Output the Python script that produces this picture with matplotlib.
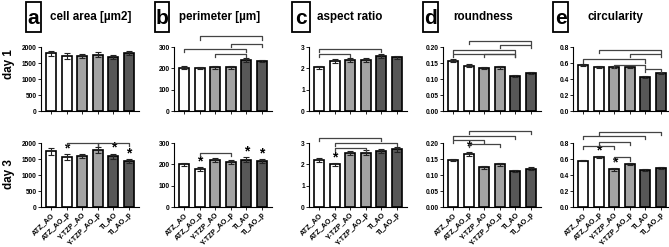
import numpy as np
import matplotlib
matplotlib.use("Agg")
from matplotlib import pyplot as plt
from matplotlib.patches import Rectangle

plt.rcParams['font.family'] = ['Liberation Sans', 'DejaVu Sans']
plt.rcParams['font.weight'] = 'bold'

groups = ["ATZ_AO", "ATZ_AO_p", "Y-TZP_AO", "Y-TZP_AO_p", "Ti_AO", "Ti_AO_p"]
bar_colors = ["white", "white", "#a3a3a3", "#a3a3a3", "#575757", "#575757"]

letters = ["a", "b", "c", "d", "e"]
titles = ["cell area [µm2]", "perimeter [µm]", "aspect ratio", "roundness", "circularity"]
ymax = [2000, 300, 3, 0.20, 0.8]
ytick_step = [500, 100, 1, 0.05, 0.2]
ytick_fmt = ["{:.0f}", "{:.0f}", "{:.0f}", "{:.2f}", "{:.1f}"]

# day 1 means / SEM
area_d1 = [1800, 1720, 1720, 1760, 1700, 1810]
area_d1_err = [80, 85, 70, 80, 60, 60]
perim_d1 = [203, 202, 205, 205, 240, 235]
perim_d1_err = [6, 6, 7, 7, 8, 6]
aspect_d1 = [2.05, 2.33, 2.38, 2.40, 2.58, 2.52]
aspect_d1_err = [0.06, 0.10, 0.10, 0.08, 0.10, 0.08]
round_d1 = [0.157, 0.142, 0.134, 0.136, 0.109, 0.118]
round_d1_err = [0.004, 0.005, 0.004, 0.004, 0.003, 0.003]
circ_d1 = [0.58, 0.55, 0.545, 0.55, 0.425, 0.47]
circ_d1_err = [0.012, 0.012, 0.012, 0.010, 0.010, 0.010]

# day 3 means / SEM
area_d3 = [1740, 1560, 1600, 1790, 1580, 1430]
area_d3_err = [100, 90, 70, 100, 90, 70]
perim_d3 = [200, 178, 220, 212, 222, 215]
perim_d3_err = [8, 8, 8, 10, 12, 10]
aspect_d3 = [2.22, 2.00, 2.52, 2.55, 2.62, 2.70]
aspect_d3_err = [0.10, 0.07, 0.10, 0.12, 0.08, 0.10]
round_d3 = [0.147, 0.165, 0.124, 0.133, 0.113, 0.120]
round_d3_err = [0.004, 0.006, 0.004, 0.005, 0.003, 0.004]
circ_d3 = [0.58, 0.62, 0.47, 0.535, 0.46, 0.485]
circ_d3_err = [0.010, 0.012, 0.020, 0.012, 0.010, 0.012]

# significance markers: stars (bar index) and brackets (from, to, height)
stars_d1 = [[], [], [], [], []]
stars_d3 = [[1, 4, 5], [1, 4, 5], [1], [1], [1, 2]]
brackets_d1 = [
    [],
    [(1, 5, 350), (3, 5, 314), (0, 4, 291), (2, 4, 268)],
    [(0, 4, 2.9), (0, 2, 2.67)],
    [(1, 5, 0.219), (3, 5, 0.206), (0, 4, 0.19), (0, 4, 0.178), (2, 4, 0.178)],
    [(1, 5, 0.76), (3, 5, 0.71), (0, 4, 0.645), (2, 4, 0.58), (4, 5, 0.53)],
]
brackets_d3 = [
    [(1, 3, 2000), (3, 5, 2000)],
    [(1, 3, 253)],
    [(0, 4, 3.23), (1, 5, 3.0), (1, 3, 2.77)],
    [(1, 5, 0.2375), (0, 4, 0.222), (0, 2, 0.209), (1, 3, 0.197)],
    [(1, 5, 0.94), (0, 4, 0.89), (1, 3, 0.81), (0, 2, 0.76), (2, 3, 0.62)],
]

day1 = [(area_d1, area_d1_err), (perim_d1, perim_d1_err), (aspect_d1, aspect_d1_err),
        (round_d1, round_d1_err), (circ_d1, circ_d1_err)]
day3 = [(area_d3, area_d3_err), (perim_d3, perim_d3_err), (aspect_d3, aspect_d3_err),
        (round_d3, round_d3_err), (circ_d3, circ_d3_err)]

W, H = 669, 247
fig = plt.figure(figsize=(W / 100, H / 100), dpi=100)

lefts = [41, 174, 309, 443, 573]
ax_w = 98
rows = [(111, day1, stars_d1, brackets_d1, False), (207, day3, stars_d3, brackets_d3, True)]
ax_h = 64

box_x = [26, 155, 292, 423, 553]
box_w = [15, 14, 18, 15, 15]
title_x = [50, 179, 317, 453, 588]

x = np.arange(len(groups))
for bottom_px, data, stars, brackets, show_labels in rows:
    for k in range(5):
        ax = fig.add_axes([lefts[k] / W, 1 - bottom_px / H, ax_w / W, ax_h / H])
        vals, errs = data[k]
        ax.bar(x, vals, width=0.64, color=bar_colors, edgecolor="black", linewidth=1.2, zorder=2)
        ax.errorbar(x, vals, yerr=errs, fmt="none", ecolor="#222222", elinewidth=0.8,
                    capsize=2.2, capthick=0.8, zorder=3)
        ax.set_xlim(-0.65, 5.65)
        ax.set_ylim(0, ymax[k])
        ax.set_yticks(np.arange(0, ymax[k] + ytick_step[k] / 2, ytick_step[k]))
        ax.set_yticklabels([ytick_fmt[k].format(v) for v in ax.get_yticks()],
                           fontsize=4.8, fontweight="bold")
        ax.set_xticks(x)
        if show_labels:
            ax.set_xticklabels(groups, rotation=45, ha="right", rotation_mode="anchor",
                               fontsize=5.2, fontweight="bold")
        else:
            ax.set_xticklabels([])
        ax.tick_params(axis="both", length=2, width=0.6, pad=1)
        for s in ["top", "right"]:
            ax.spines[s].set_visible(False)
        for s in ["left", "bottom"]:
            ax.spines[s].set_linewidth(0.8)
        ax.patch.set_alpha(0)

        # stars
        for i in stars[k]:
            ax.text(i, vals[i] + errs[i] - ymax[k] * 0.02, "*", ha="center", va="bottom",
                    fontsize=10, fontweight="bold", zorder=4)
        # brackets
        tick = ymax[k] * 0.05
        for i, j, h in brackets[k]:
            ax.plot([i, i, j, j], [h - tick, h, h, h - tick], color="#444444",
                    linewidth=0.9, clip_on=False, zorder=4)

# panel letters and titles
for k in range(5):
    fig.add_artist(Rectangle((box_x[k] / W, 1 - 32 / H), box_w[k] / W, 30 / H,
                             transform=fig.transFigure, fill=False, edgecolor="black",
                             linewidth=1.3))
    fig.text((box_x[k] + box_w[k] / 2) / W, 1 - 18 / H, letters[k], ha="center",
             va="center", fontsize=15, fontweight="bold")
    fig.text(title_x[k] / W, 1 - 17 / H, titles[k], ha="left", va="center",
             fontsize=8.4, fontweight="bold")

fig.text(9 / W, 1 - 64 / H, "day 1", rotation=90, ha="center", va="center",
         fontsize=8.4, fontweight="bold")
fig.text(9 / W, 1 - 174 / H, "day 3", rotation=90, ha="center", va="center",
         fontsize=8.4, fontweight="bold")

fig.savefig("out.png", dpi=100)
